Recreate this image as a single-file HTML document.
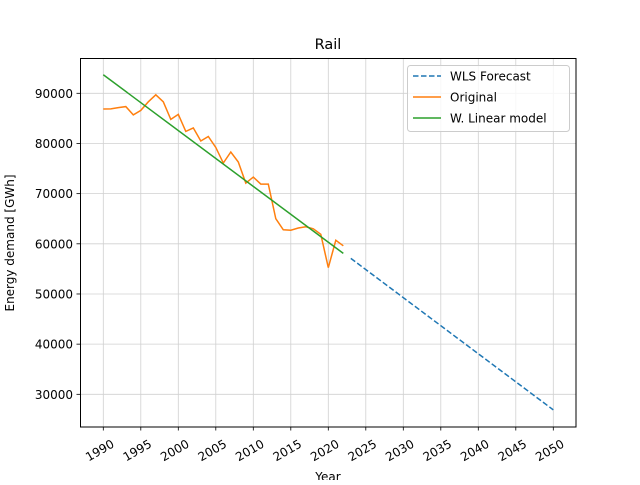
<!DOCTYPE html>
<html><head><meta charset="utf-8"><style>
body{margin:0;background:#fff;}
svg{font-family:"DejaVu Sans","Liberation Sans",sans-serif;}
</style></head><body>
<svg id="chart" width="640" height="480" xmlns="http://www.w3.org/2000/svg">
<rect width="640" height="480" fill="#fff"/>
<g id="grid"></g>
<g id="series"></g>
<rect x="80.5" y="58.5" width="495.5" height="368.5" fill="none" stroke="#000" stroke-width="1"/>
<g id="ticks"></g>
<text x="328" y="49" text-anchor="middle" font-size="14.5">Rail</text>
<text x="328" y="481" text-anchor="middle" font-size="12">Year</text>
<text transform="translate(14,243) rotate(-90)" text-anchor="middle" font-size="12">Energy demand [GWh]</text>
<g>
<rect x="407.5" y="65.5" width="162" height="66" rx="3" fill="#fff" fill-opacity="0.8" stroke="#ccc"/>
<line x1="413" y1="76" x2="441" y2="76" stroke="#1f77b4" stroke-width="1.5" stroke-dasharray="5.5,2.5"/>
<text x="450" y="80.5" font-size="12">WLS Forecast</text>
<line x1="413" y1="97" x2="441" y2="97" stroke="#ff7f0e" stroke-width="1.5"/>
<text x="450" y="101.5" font-size="12">Original</text>
<line x1="413" y1="118" x2="441" y2="118" stroke="#2ca02c" stroke-width="1.5"/>
<text x="450" y="122.5" font-size="12">W. Linear model</text>
</g>
</svg>
<script>
const originalYears=[1990,1991,1992,1993,1994,1995,1996,1997,1998,1999,2000,2001,2002,2003,2004,2005,2006,2007,2008,2009,2010,2011,2012,2013,2014,2015,2016,2017,2018,2019,2020,2021,2022];
const originalValues=[86870,86900,87150,87350,85700,86600,88300,89700,88300,84800,85800,82400,83100,80500,81400,79200,76100,78300,76300,72100,73300,71900,71900,65000,62800,62700,63150,63400,63000,61900,55250,60700,59600];
const modelYears=[1990,2022];
const modelValues=[93700,58100];
const forecastYears=[2023,2050];
const forecastValues=[57100,26900];
const xTicks=[1990,1995,2000,2005,2010,2015,2020,2025,2030,2035,2040,2045,2050];
const yTicks=[30000,40000,50000,60000,70000,80000,90000];
const NS="http://www.w3.org/2000/svg";
function X(v){return 103.3+(v-1990)*7.5;}
function Y(v){return 93.3-(v-90000)*0.005017;}
function mk(t,a,p){const e=document.createElementNS(NS,t);for(const k in a)e.setAttribute(k,a[k]);p.appendChild(e);return e;}
const grid=document.getElementById('grid'),ticks=document.getElementById('ticks'),ser=document.getElementById('series');
xTicks.forEach(t=>{const x=X(t);
const g=mk('line',{x1:x,x2:x,y1:58,y2:427,stroke:'#d0d0d0','stroke-width':0.8},grid);


const l=mk('line',{x1:x,x2:x,y1:427,y2:430.5,stroke:'#000','stroke-width':0.8},ticks);


const tx=mk('text',{'font-size':12,'text-anchor':'end',transform:`translate(${x+7},${438}) rotate(-30)`,dy:'0.8em'},ticks);
tx.textContent=t;


});
yTicks.forEach(t=>{const y=Y(t);
const g=mk('line',{x1:80,x2:576,y1:y,y2:y,stroke:'#d0d0d0','stroke-width':0.8},grid);


const l=mk('line',{x1:76.5,x2:80,y1:y,y2:y,stroke:'#000','stroke-width':0.8},ticks);


const tx=mk('text',{x:73,y:y+4.5,'font-size':12,'text-anchor':'end'},ticks);
tx.textContent=t;


});
function pts(xs,vs){return xs.map((x,i)=>X(x)+','+Y(vs[i])).join(' ');}
const f=mk('polyline',{points:pts(forecastYears,forecastValues),fill:'none',stroke:'#1f77b4','stroke-width':1.5,'stroke-dasharray':'5.5,2.5'},ser);


const o=mk('polyline',{points:pts(originalYears,originalValues),fill:'none',stroke:'#ff7f0e','stroke-width':1.5},ser);


const m=mk('polyline',{points:pts(modelYears,modelValues),fill:'none',stroke:'#2ca02c','stroke-width':1.5},ser);


</script>
</body></html>
